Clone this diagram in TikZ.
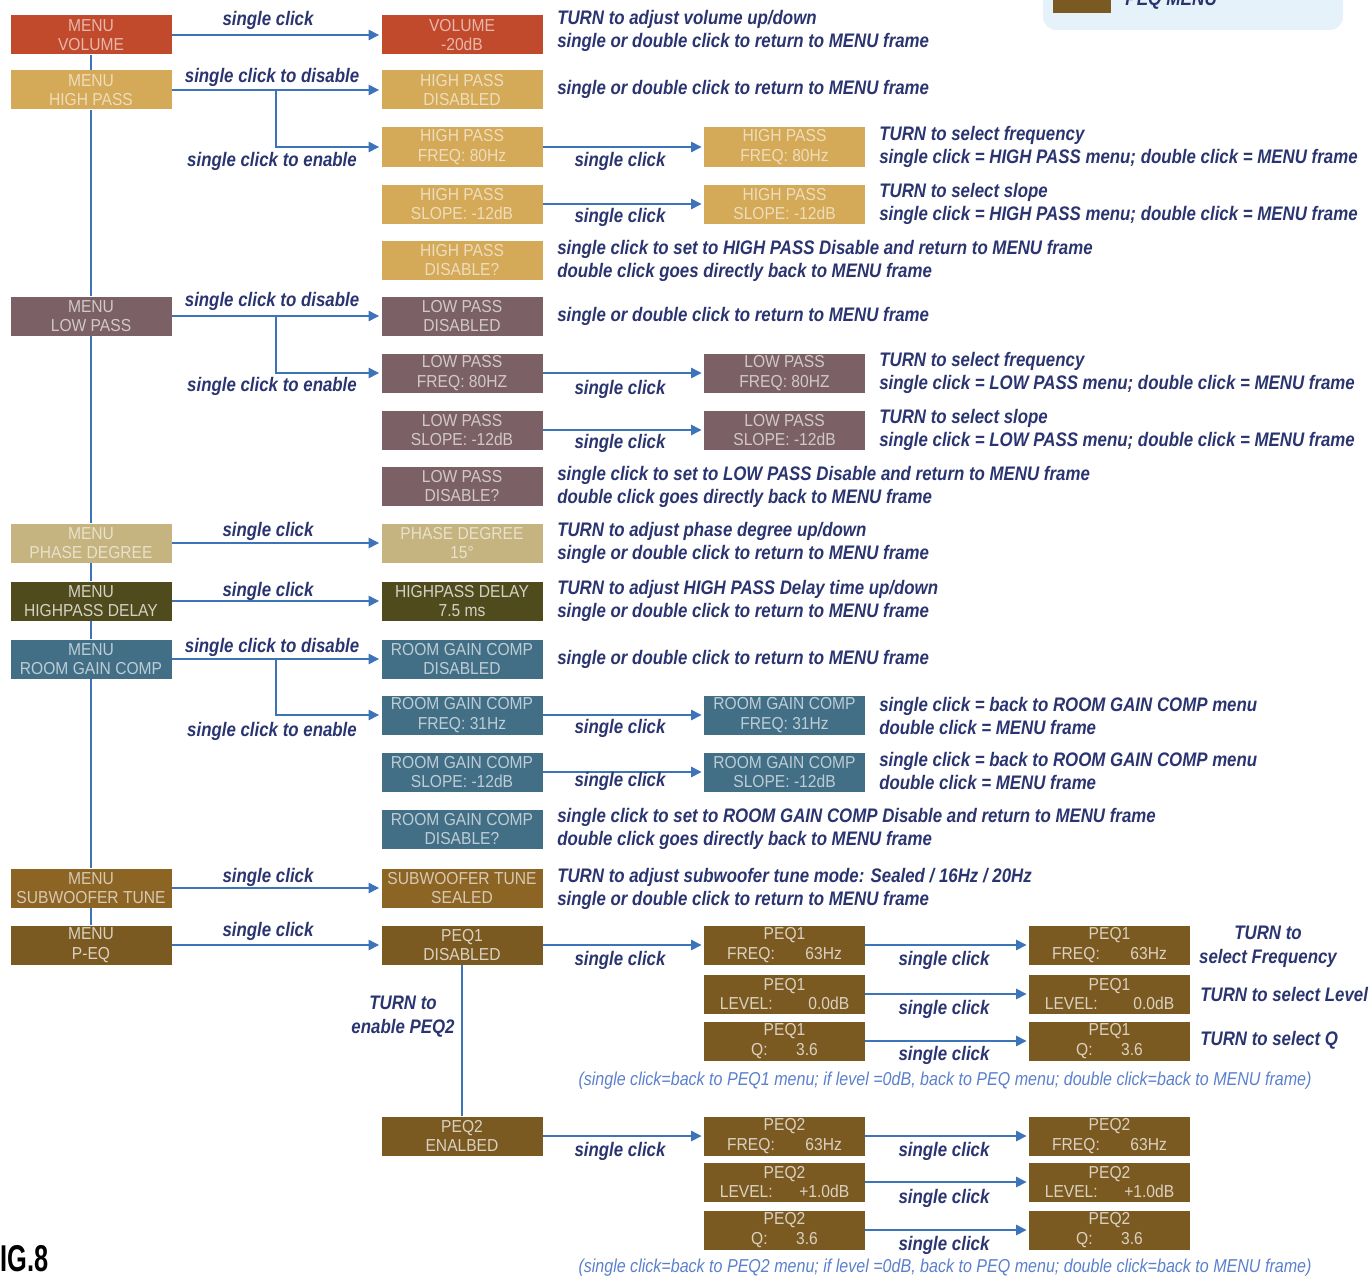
\documentclass[tikz,border=0pt]{standalone}
\usepackage{fontspec}
\setmainfont{Liberation Sans}
\newfontfamily\dscfont[FakeStretch=0.86]{Liberation Sans}
\newfontfamily\lcdfont[FakeStretch=0.9]{Liberation Sans}
\newfontfamily\figfont[FakeStretch=0.68]{Liberation Sans}
\usetikzlibrary{arrows.meta}
\definecolor{navy}{HTML}{2A3470}
\definecolor{cline}{HTML}{3D74B9}
\definecolor{cnote}{HTML}{5A80CC}
\definecolor{cvol}{HTML}{C24A2C}
\definecolor{chp}{HTML}{D4A957}
\definecolor{clp}{HTML}{7B6165}
\definecolor{cpd}{HTML}{C5B47F}
\definecolor{chd}{HTML}{4F4B1D}
\definecolor{crg}{HTML}{426F86}
\definecolor{csw}{HTML}{8C6424}
\definecolor{cpeq}{HTML}{7B5A22}
\definecolor{clegend}{HTML}{E6F2FA}
\begin{document}
\begin{tikzpicture}[x=0.75pt,y=-0.75pt,
  box/.style={rectangle, minimum width=120.75pt, minimum height=29.25pt, inner sep=0pt, align=center, font=\lcdfont\fontsize{13}{14.5}\selectfont},
  volbox/.style={box, fill=cvol, text=cvol!40!white},
  hpbox/.style={box, fill=chp, text=chp!40!white},
  lpbox/.style={box, fill=clp, text=clp!35!white},
  pdbox/.style={box, fill=cpd, text=cpd!40!white},
  hdbox/.style={box, fill=chd, text=chd!25!white},
  rgbox/.style={box, fill=crg, text=crg!35!white},
  swbox/.style={box, fill=csw, text=csw!35!white},
  peqbox/.style={box, fill=cpeq, text=cpeq!28!white},
  arr/.style={draw=cline, line width=2pt, -{Triangle[length=8pt,width=7.5pt]}, shorten >=1.5pt},
  ln/.style={draw=cline, line width=2pt},
  lbl/.style={font=\dscfont\bfseries\itshape\fontsize{14.7}{17.8}\selectfont, text=navy, inner sep=0pt},
  dsc/.style={lbl, anchor=west, align=left},
  fnote/.style={font=\dscfont\itshape\fontsize{14}{16}\selectfont, text=cnote, inner sep=0pt}
]
\useasboundingbox (0,0) rectangle (1369,1277);
\clip (0,0) rectangle (1369,1277);

% legend (cut off at top)
\node[draw=none, fill=clegend, rounded corners=10pt, minimum width=225pt, minimum height=45pt, inner sep=0pt] (legend) at (1193,0) {};
\node[fill=cpeq, minimum width=44pt, minimum height=20pt, inner sep=0pt] (swatch) at (1082,0) {};
\node[font=\dscfont\bfseries\itshape\fontsize{15}{17}\selectfont, text=navy, anchor=base west, inner sep=0pt] (legtext) at (1125,6) {PEQ MENU};

% left column
\node[volbox] (mv) at (91,35) {MENU\\VOLUME};
\node[hpbox] (mhp) at (91,90) {MENU\\HIGH PASS};
\node[lpbox] (mlp) at (91,316) {MENU\\LOW PASS};
\node[pdbox] (mpd) at (91,543) {MENU\\PHASE DEGREE};
\node[hdbox] (mhd) at (91,601) {MENU\\HIGHPASS DELAY};
\node[rgbox] (mrg) at (91,659) {MENU\\ROOM GAIN COMP};
\node[swbox] (msw) at (91,888) {MENU\\SUBWOOFER TUNE};
\node[peqbox] (mpeq) at (91,945) {MENU\\P-EQ};

% middle column
\node[volbox] (vol) at (462,35) {VOLUME\\-20dB};
\node[hpbox] (hpd) at (462,90) {HIGH PASS\\DISABLED};
\node[hpbox] (hpf) at (462,147) {HIGH PASS\\FREQ: 80Hz};
\node[hpbox] (hps) at (462,204) {HIGH PASS\\SLOPE: -12dB};
\node[hpbox] (hpq) at (462,260) {HIGH PASS\\DISABLE?};
\node[lpbox] (lpd) at (462,316) {LOW PASS\\DISABLED};
\node[lpbox] (lpf) at (462,373) {LOW PASS\\FREQ: 80HZ};
\node[lpbox] (lps) at (462,430) {LOW PASS\\SLOPE: -12dB};
\node[lpbox] (lpq) at (462,486) {LOW PASS\\DISABLE?};
\node[pdbox] (pd) at (462,543) {PHASE DEGREE\\15°};
\node[hdbox] (hd) at (462,601) {HIGHPASS DELAY\\7.5 ms};
\node[rgbox] (rgd) at (462,659) {ROOM GAIN COMP\\DISABLED};
\node[rgbox] (rgf) at (462,715) {ROOM GAIN COMP\\FREQ: 31Hz};
\node[rgbox] (rgs) at (462,772) {ROOM GAIN COMP\\SLOPE: -12dB};
\node[rgbox] (rgq) at (462,829) {ROOM GAIN COMP\\DISABLE?};
\node[swbox] (sw) at (462,888) {SUBWOOFER TUNE\\SEALED};
\node[peqbox] (p1) at (462,945) {PEQ1\\DISABLED};
\node[peqbox] (p2) at (462,1136) {PEQ2\\ENALBED};

% third column
\node[hpbox] (hpf2) at (784.5,147) {HIGH PASS\\FREQ: 80Hz};
\node[hpbox] (hps2) at (784.5,204) {HIGH PASS\\SLOPE: -12dB};
\node[lpbox] (lpf2) at (784.5,373) {LOW PASS\\FREQ: 80HZ};
\node[lpbox] (lps2) at (784.5,430) {LOW PASS\\SLOPE: -12dB};
\node[rgbox] (rgf2) at (784.5,715) {ROOM GAIN COMP\\FREQ: 31Hz};
\node[rgbox] (rgs2) at (784.5,772) {ROOM GAIN COMP\\SLOPE: -12dB};
\node[peqbox] (p1f) at (784.5,945) {PEQ1\\\makebox[86pt]{FREQ:\hfill 63Hz}};
\node[peqbox] (p1l) at (784.5,994) {PEQ1\\\makebox[97pt]{LEVEL:\hfill 0.0dB}};
\node[peqbox] (p1q) at (784.5,1041) {PEQ1\\\makebox[50pt]{Q:\hfill 3.6}};
\node[peqbox] (p2f) at (784.5,1136) {PEQ2\\\makebox[86pt]{FREQ:\hfill 63Hz}};
\node[peqbox] (p2l) at (784.5,1182) {PEQ2\\\makebox[97pt]{LEVEL:\hfill +1.0dB}};
\node[peqbox] (p2q) at (784.5,1230) {PEQ2\\\makebox[50pt]{Q:\hfill 3.6}};

% fourth column
\node[peqbox] (p1f2) at (1109.5,945) {PEQ1\\\makebox[86pt]{FREQ:\hfill 63Hz}};
\node[peqbox] (p1l2) at (1109.5,994) {PEQ1\\\makebox[97pt]{LEVEL:\hfill 0.0dB}};
\node[peqbox] (p1q2) at (1109.5,1041) {PEQ1\\\makebox[50pt]{Q:\hfill 3.6}};
\node[peqbox] (p2f2) at (1109.5,1136) {PEQ2\\\makebox[86pt]{FREQ:\hfill 63Hz}};
\node[peqbox] (p2l2) at (1109.5,1182) {PEQ2\\\makebox[97pt]{LEVEL:\hfill +1.0dB}};
\node[peqbox] (p2q2) at (1109.5,1230) {PEQ2\\\makebox[50pt]{Q:\hfill 3.6}};

% main spine
\draw[ln] (mv.south) -- (mhp.north);
\draw[ln] (mhp.south) -- (mlp.north);
\draw[ln] (mlp.south) -- (mpd.north);
\draw[ln] (mpd.south) -- (mhd.north);
\draw[ln] (mhd.south) -- (mrg.north);
\draw[ln] (mrg.south) -- (msw.north);
\draw[ln] (msw.south) -- (mpeq.north);
\draw[ln] (p1.south) -- (p2.north);

% main arrows
\draw[arr] (mv.east) -- (vol.west);
\draw[arr] (mhp.east) -- (hpd.west);
\coordinate (hpb) at (276,90);
\draw[arr] (hpb) |- (hpf.west);
\draw[arr] (mlp.east) -- (lpd.west);
\coordinate (lpb) at (276,316);
\draw[arr] (lpb) |- (lpf.west);
\draw[arr] (mpd.east) -- (pd.west);
\draw[arr] (mhd.east) -- (hd.west);
\draw[arr] (mrg.east) -- (rgd.west);
\coordinate (rgb) at (276,659);
\draw[arr] (rgb) |- (rgf.west);
\draw[arr] (msw.east) -- (sw.west);
\draw[arr] (mpeq.east) -- (p1.west);

% second-level arrows
\draw[arr] (hpf.east) -- (hpf2.west);
\draw[arr] (hps.east) -- (hps2.west);
\draw[arr] (lpf.east) -- (lpf2.west);
\draw[arr] (lps.east) -- (lps2.west);
\draw[arr] (rgf.east) -- (rgf2.west);
\draw[arr] (rgs.east) -- (rgs2.west);
\draw[arr] (p1.east) -- (p1f.west);
\draw[arr] (p2.east) -- (p2f.west);
\draw[arr] (p1f.east) -- (p1f2.west);
\draw[arr] (p1l.east) -- (p1l2.west);
\draw[arr] (p1q.east) -- (p1q2.west);
\draw[arr] (p2f.east) -- (p2f2.west);
\draw[arr] (p2l.east) -- (p2l2.west);
\draw[arr] (p2q.east) -- (p2q2.west);

% arrow labels
\node[lbl] (l1) at (268,20) {single click};
\node[lbl] (l2) at (272,77) {single click to disable};
\node[lbl] (l3) at (272,161) {single click to enable};
\node[lbl] (l4) at (620,161) {single click};
\node[lbl] (l5) at (620,217) {single click};
\node[lbl] (l6) at (272,301) {single click to disable};
\node[lbl] (l7) at (272,386) {single click to enable};
\node[lbl] (l8) at (620,389) {single click};
\node[lbl] (l9) at (620,443) {single click};
\node[lbl] (l10) at (268,531) {single click};
\node[lbl] (l11) at (268,591) {single click};
\node[lbl] (l12) at (272,647) {single click to disable};
\node[lbl] (l13) at (272,731) {single click to enable};
\node[lbl] (l14) at (620,728) {single click};
\node[lbl] (l15) at (620,781) {single click};
\node[lbl] (l16) at (268,877) {single click};
\node[lbl] (l17) at (268,931) {single click};
\node[lbl] (l18) at (620,960) {single click};
\node[lbl] (l19) at (944,960) {single click};
\node[lbl] (l20) at (944,1009) {single click};
\node[lbl] (l21) at (944,1055) {single click};
\node[lbl] (l22) at (620,1151) {single click};
\node[lbl] (l23) at (944,1151) {single click};
\node[lbl] (l24) at (944,1198) {single click};
\node[lbl] (l25) at (944,1245) {single click};
\node[lbl, align=center] (l26) at (403,1017) {TURN to\\enable PEQ2};

% descriptions
\node[dsc] (d1) at (557,31) {TURN to adjust volume up/down\\single or double click to return to MENU frame};
\node[dsc] (d2) at (557,89) {single or double click to return to MENU frame};
\node[dsc] (d3) at (879,147) {TURN to select frequency\\single click = HIGH PASS menu; double click = MENU frame};
\node[dsc] (d4) at (879,204) {TURN to select slope\\single click = HIGH PASS menu; double click = MENU frame};
\node[dsc] (d5) at (557,261) {single click to set to HIGH PASS Disable and return to MENU frame\\double click goes directly back to MENU frame};
\node[dsc] (d6) at (557,316) {single or double click to return to MENU frame};
\node[dsc] (d7) at (879,373) {TURN to select frequency\\single click = LOW PASS menu; double click = MENU frame};
\node[dsc] (d8) at (879,430) {TURN to select slope\\single click = LOW PASS menu; double click = MENU frame};
\node[dsc] (d9) at (557,487) {single click to set to LOW PASS Disable and return to MENU frame\\double click goes directly back to MENU frame};
\node[dsc] (d10) at (557,543) {TURN to adjust phase degree up/down\\single or double click to return to MENU frame};
\node[dsc] (d11) at (557,601) {TURN to adjust HIGH PASS Delay time up/down\\single or double click to return to MENU frame};
\node[dsc] (d12) at (557,659) {single or double click to return to MENU frame};
\node[dsc] (d13) at (879,716) {single click = back to ROOM GAIN COMP menu\\double click = MENU frame};
\node[dsc] (d14) at (879,771) {single click = back to ROOM GAIN COMP menu\\double click = MENU frame};
\node[dsc] (d15) at (557,829) {single click to set to ROOM GAIN COMP Disable and return to MENU frame\\double click goes directly back to MENU frame};
\node[dsc] (d16) at (557,889) {TURN to adjust subwoofer tune mode: Sealed / 16Hz / 20Hz\\single or double click to return to MENU frame};
\node[lbl, align=center] (d17) at (1268,947) {TURN to\\select Frequency};
\node[dsc] (d18) at (1200,994) {TURN to select Level};
\node[dsc] (d19) at (1200,1040) {TURN to select Q};

% footnotes
\node[fnote] (f1) at (945,1081) {(single click=back to PEQ1 menu; if level =0dB, back to PEQ menu; double click=back to MENU frame)};
\node[fnote] (f2) at (945,1268) {(single click=back to PEQ2 menu; if level =0dB, back to PEQ menu; double click=back to MENU frame)};

% figure label
\node[font=\figfont\bfseries\fontsize{28}{30}\selectfont, text=black, anchor=base west, inner sep=0pt] (fig) at (0,1271) {IG.8};
\end{tikzpicture}
\end{document}
